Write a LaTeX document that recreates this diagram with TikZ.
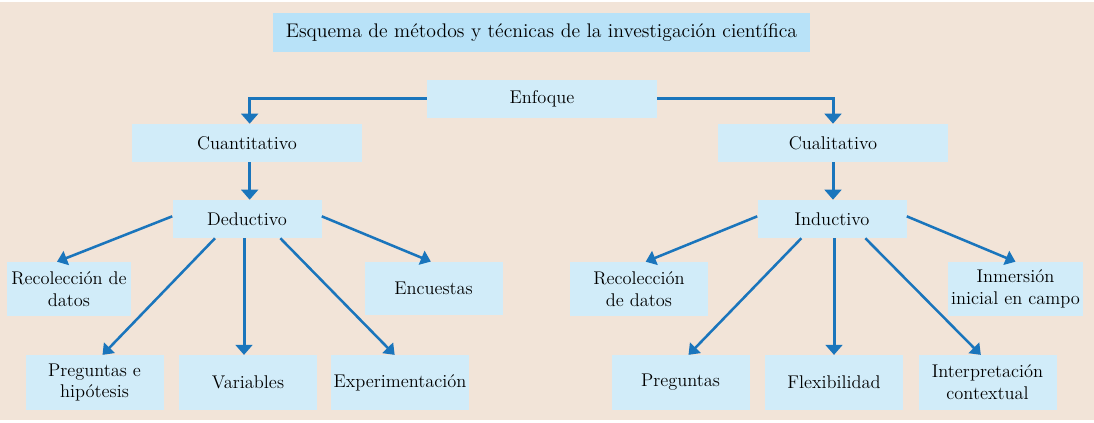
\documentclass[tikz,border=0pt]{standalone}
\usepackage{tikz}
\usetikzlibrary{arrows.meta}
\definecolor{fondo}{HTML}{F2E4D8}
\definecolor{azulcaja}{HTML}{D1ECF9}
\definecolor{azultitulo}{HTML}{B8E2F8}
\definecolor{azulflecha}{HTML}{1A75BC}

\begin{document}
\begin{tikzpicture}[x=0.75pt, y=-0.75pt,
  caja/.style={fill=azulcaja, inner sep=0pt, align=center,
    font=\fontsize{13.8}{16.5}\selectfont},
  ancha/.style={caja, minimum width=172.5pt, minimum height=28.5pt},
  media/.style={caja, minimum width=111.75pt, minimum height=28.5pt},
  hoja/.style={caja, minimum width=103.5pt, minimum height=41pt},
  gruesa/.style={draw=azulflecha, line width=2.25pt,
    -{Triangle[width=12.5pt,length=7.5pt]}},
  fina/.style={draw=azulflecha, line width=1.9pt,
    -{Triangle[width=11pt,length=7.5pt]}}]
  % fondo
  \useasboundingbox (0,0) rectangle (1094,423);
  \fill[white] (0,0) rectangle (1094,423);
  \fill[fondo] (0,2) rectangle (1094,420);

  % titulo y enfoque
  \node[caja, fill=azultitulo, minimum width=402.75pt, minimum height=29.25pt,
    font=\fontsize{14.8}{17}\selectfont] (titulo) at (541.5,32.5)
    {Esquema de métodos y técnicas de la investigación científica};
  \node[ancha] (enfoque) at (542,99) {Enfoque};
  \node[ancha] (cuanti) at (247,143) {Cuantitativo};
  \node[ancha] (cuali) at (833,143) {Cualitativo};
  \node[media] (deduc) at (247,219) {Deductivo};
  \node[media] (induc) at (832,219) {Inductivo};

  % rama cuantitativa
  \node[hoja, minimum width=93pt, minimum height=40.5pt] (recolA) at (69,289) {Recolección de\\datos};
  \node[hoja, minimum height=40pt] (encuestas) at (433.5,288.5) {Encuestas};
  \node[hoja] (preguntasA) at (94.5,382.5) {Preguntas e\\hipótesis};
  \node[hoja] (variables) at (248,382.5) {Variables};
  \node[hoja] (experim) at (400,382.5) {Experimentación};

  % rama cualitativa
  \node[hoja, minimum height=40.5pt] (recolB) at (639,289) {Recolección\\de datos};
  \node[hoja, minimum width=101.25pt, minimum height=40.5pt] (inmersion) at (1015.5,289) {Inmersión\\inicial en campo};
  \node[hoja] (preguntasB) at (680.5,382.5) {Preguntas};
  \node[hoja] (flexib) at (834,382.5) {Flexibilidad};
  \node[hoja] (interp) at (987.5,382.5) {Interpretación\\contextual};

  % flechas
  \draw[gruesa] (enfoque.west) -| ([xshift=2pt]cuanti.north);
  \draw[gruesa] (enfoque.east) -| (cuali.north);
  \draw[gruesa] ([xshift=2pt]cuanti.south) -- ([xshift=2pt]cuanti.south |- deduc.north);
  \draw[gruesa] (cuali.south) -- (cuali.south |- induc.north);

  \draw[fina] ([yshift=2pt]deduc.west) -- ([xshift=-9pt]recolA.north);
  \draw[fina] ([yshift=2pt]deduc.east) -- ([xshift=-2pt]encuestas.north);
  \draw[fina] ([xshift=-24pt]deduc.south) -- ([xshift=6pt]preguntasA.north);
  \draw[gruesa] ([xshift=-3pt]variables.north |- deduc.south) -- ([xshift=-3pt]variables.north);
  \draw[fina] ([xshift=25pt]deduc.south) -- ([xshift=-4pt]experim.north);

  \draw[fina] ([yshift=2pt]induc.west) -- ([xshift=5pt]recolB.north);
  \draw[fina] ([yshift=2pt]induc.east) -- (inmersion.north);
  \draw[fina] ([xshift=-23pt]induc.south) -- ([xshift=6pt]preguntasB.north);
  \draw[gruesa] (flexib.north |- induc.south) -- (flexib.north);
  \draw[fina] ([xshift=25pt]induc.south) -- ([xshift=-5pt]interp.north);
\end{tikzpicture}
\end{document}
